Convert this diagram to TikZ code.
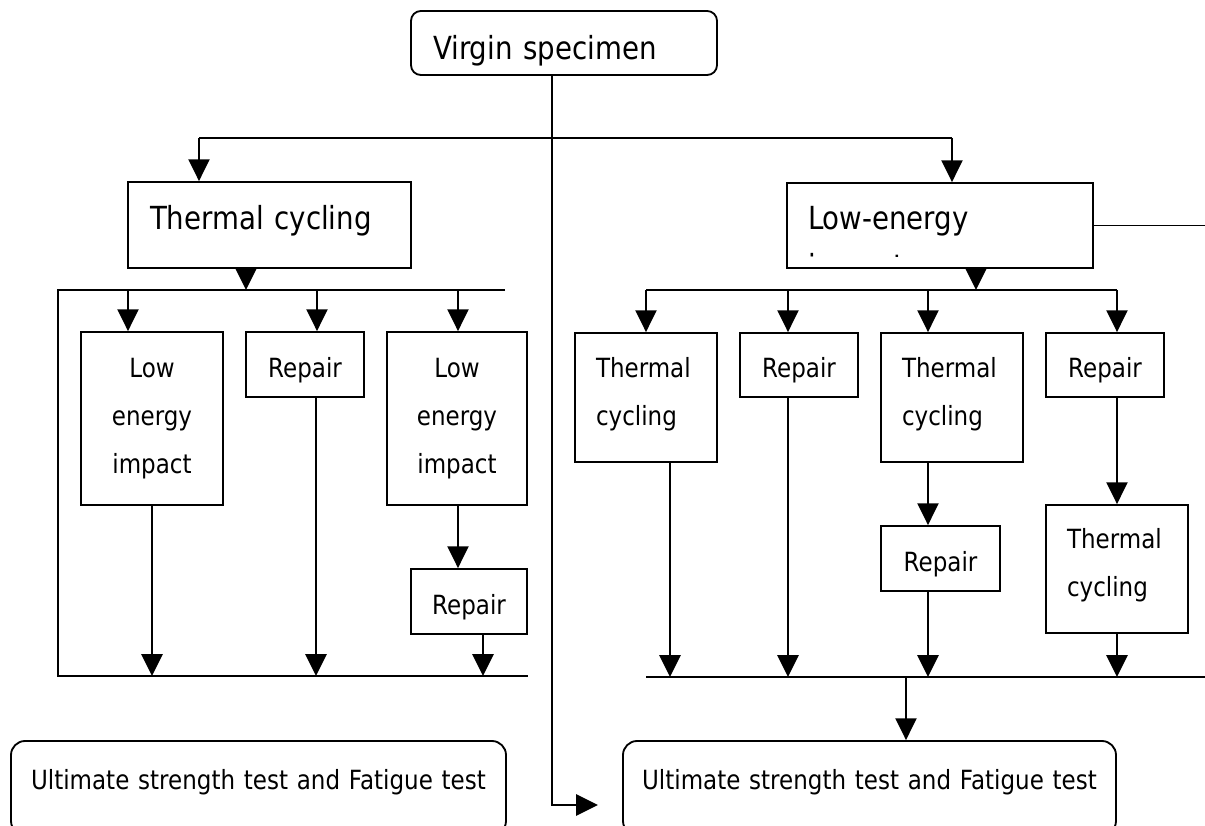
\documentclass[tikz,border=0pt]{standalone}
\usepackage{fontspec}
\setmainfont[FakeStretch=0.87]{DejaVu Sans}
\usetikzlibrary{arrows.meta}

\newcommand{\bigtxt}{\fontsize{22.6}{34.1}\selectfont}
\newcommand{\smalltxt}{\fontsize{18.8}{34.1}\selectfont}

\tikzset{
  box/.style n args={4}{draw, rectangle, anchor=base, inner ysep=0pt,
    inner xsep=#4*0.025cm, text width=(#1-2*#4)*0.025cm,
    text height=#2*0.025cm, text depth=#3*0.025cm},
  arr/.style={-{Triangle[length=15.5pt,width=15pt]}},
}

\begin{document}
\begin{tikzpicture}[x=0.025cm, y=-0.025cm, line width=1.3pt]
\useasboundingbox (0,0) rectangle (1205,826);
\clip (0,0) rectangle (1205,826);

\node[box={306}{49}{15}{22}, rounded corners=7pt, align=left, font=\bigtxt] (vs) at (564,60) {Virgin specimen};
\node[box={283}{48}{38}{22}, align=left, font=\bigtxt] (tc) at (269.5,230) {Thermal cycling};
\node[box={306}{47}{38}{21}, align=left, font=\bigtxt] (le) at (940,230) {Low-energy};
\begin{scope}
\clip (787,183) rectangle (1093,257);
\node[anchor=base west, inner sep=0pt, font=\bigtxt] (leb) at (808,278) {impact};
\end{scope}

\node[box={142}{46}{127}{0}, align=center, font=\smalltxt] (lei1) at (152,378) {Low\\energy\\impact};
\node[box={118}{46}{19}{0}, align=center, font=\smalltxt] (rp1) at (305,378) {Repair};
\node[box={140}{46}{127}{0}, align=center, font=\smalltxt] (lei2) at (457,378) {Low\\energy\\impact};
\node[box={116}{45}{20}{0}, align=center, font=\smalltxt] (rp2) at (469,614) {Repair};

\node[box={142}{45}{84}{21}, align=left, font=\smalltxt] (tc1) at (646,378) {Thermal\\cycling};
\node[box={118}{45}{19}{0}, align=center, font=\smalltxt] (rp3) at (799,378) {Repair};
\node[box={142}{45}{84}{21}, align=left, font=\smalltxt] (tc2) at (952,378) {Thermal\\cycling};
\node[box={118}{45}{19}{0}, align=center, font=\smalltxt] (rp4) at (1105,378) {Repair};
\node[box={119}{46}{19}{0}, align=center, font=\smalltxt] (rp5) at (940.5,572) {Repair};
\node[box={142}{44}{84}{21}, align=left, font=\smalltxt] (tc3) at (1117,549) {Thermal\\cycling};

\node[box={495}{48}{46}{0}, rounded corners=10pt, align=center, font=\smalltxt] (ut1) at (258.5,789) {Ultimate strength test and Fatigue test};
\node[box={493}{48}{46}{0}, rounded corners=10pt, align=center, font=\smalltxt] (ut2) at (869.5,789) {Ultimate strength test and Fatigue test};

\coordinate (tW) at (199,138);
\coordinate (tE) at (952,138);
\coordinate (vturn) at (552,805);
\coordinate (vend) at (598,805);
\coordinate (edge) at (1205,226);

\coordinate (lt0) at (246,290);
\coordinate (lbusE) at (505,290);
\coordinate (lbusW) at (58,290);
\coordinate (lbotW) at (58,676);
\coordinate (lbotE) at (528,676);
\coordinate (l1) at (128,290);
\coordinate (l2) at (317,290);
\coordinate (l3) at (458,290);
\coordinate (lb1) at (152,676);
\coordinate (lb2) at (316,676);
\coordinate (lb3) at (483,676);

\coordinate (r0) at (976,290);
\coordinate (r1) at (646,290);
\coordinate (r2) at (788,290);
\coordinate (r3) at (928,290);
\coordinate (r4) at (1117,290);
\coordinate (rbW) at (646,677);
\coordinate (rbE) at (1205,677);
\coordinate (rb1) at (670,677);
\coordinate (rb2) at (788,677);
\coordinate (rb3) at (928,677);
\coordinate (rb4) at (1117,677);
\coordinate (rb5) at (906,677);

\draw [arr] (vturn |- vs.south) -- (vturn) -- (vend);
\draw (tW) -- (tE);
\draw [arr] (tW) -- (tW |- tc.north);
\draw [arr] (tE) -- (tE |- le.north);
\draw (le.east) -- (le.east -| edge);

\draw [arr] (lt0 |- tc.south) -- (lt0);
\draw (lbusE) -- (lbusW) -- (lbotW) -- (lbotE);
\draw [arr] (l1) -- (l1 |- lei1.north);
\draw [arr] (l2) -- (l2 |- rp1.north);
\draw [arr] (l3) -- (l3 |- lei2.north);
\draw [arr] (l3 |- lei2.south) -- (l3 |- rp2.north);
\draw [arr] (lb1 |- lei1.south) -- (lb1);
\draw [arr] (lb2 |- rp1.south) -- (lb2);
\draw [arr] (lb3 |- rp2.south) -- (lb3);

\draw [arr] (r0 |- le.south) -- (r0);
\draw (r1) -- (r4);
\draw [arr] (r1) -- (r1 |- tc1.north);
\draw [arr] (r2) -- (r2 |- rp3.north);
\draw [arr] (r3) -- (r3 |- tc2.north);
\draw [arr] (r4) -- (r4 |- rp4.north);
\draw [arr] (r3 |- tc2.south) -- (r3 |- rp5.north);
\draw [arr] (r4 |- rp4.south) -- (r4 |- tc3.north);
\draw (rbW) -- (rbE);
\draw [arr] (rb1 |- tc1.south) -- (rb1);
\draw [arr] (rb2 |- rp3.south) -- (rb2);
\draw [arr] (rb3 |- rp5.south) -- (rb3);
\draw [arr] (rb4 |- tc3.south) -- (rb4);
\draw [arr] (rb5) -- (rb5 |- ut2.north);
\end{tikzpicture}
\end{document}
